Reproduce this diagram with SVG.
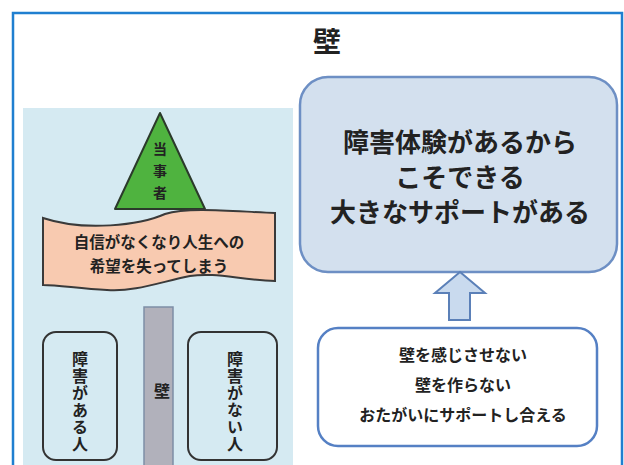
<svg xmlns="http://www.w3.org/2000/svg" width="624" height="465" viewBox="0 0 624 465">
<style>
text{font-family:"Noto Sans CJK JP","Noto Sans CJK SC",sans-serif;font-weight:bold;fill:#222;text-anchor:middle;dominant-baseline:central}
.v{writing-mode:vertical-rl}
.dark{fill:none;stroke:#333;stroke-width:2}
</style>
<rect x="0" y="0" width="624" height="465" fill="#ffffff"/>
<rect x="13" y="13" width="609" height="470" fill="#ffffff" stroke="#1f7fd0" stroke-width="2.5"/>
<g id="title"><text x="327" y="40" font-size="28">壁</text></g>
<g id="panel"><rect x="23" y="108" width="270" height="360" fill="#d5eaf2"/></g>
<g id="tojisha">
<path d="M160,113 L205,209 L115,209 Z" fill="#4fb33f" stroke="#2b3a2b" stroke-width="2" stroke-linejoin="round"/>
<text class="v" x="160" y="175" font-size="14" letter-spacing="8">当事者</text>
</g>
<g id="banner">
<path d="M43,218 C85,232 140,225 165,214 C190,206 240,212 275,213 L275,281 C240,280 215,272 190,276 C160,282 135,292 107,290 C80,289 60,285 43,285 Z" fill="#f8cab0" stroke="#3a3a3a" stroke-width="2"/>
<text x="159" y="241" font-size="15.5">自信がなくなり人生への</text>
<text x="159" y="265" font-size="15.5">希望を失ってしまう</text>
</g>
<g id="wall">
<rect x="144" y="307" width="29" height="165" fill="#b1b1bb" stroke="#7e8ea6" stroke-width="1.5"/>
<text x="162" y="390" font-size="16">壁</text>
</g>
<g id="person-with">
<rect x="43" y="332" width="74" height="128" rx="13" class="dark"/>
<text class="v" x="80" y="402" font-size="16" letter-spacing="1">障害がある人</text>
</g>
<g id="person-without">
<rect x="188" y="332" width="89" height="128" rx="13" class="dark"/>
<text class="v" x="235" y="402" font-size="16" letter-spacing="1">障害がない人</text>
</g>
<g id="support-box">
<rect x="300" y="77" width="317" height="195" rx="28" fill="#d3e0ee" stroke="#6d8fc4" stroke-width="2.5"/>
<text x="460" y="140" font-size="26">障害体験があるから</text>
<text x="460" y="175" font-size="26">こそできる</text>
<text x="460" y="210" font-size="26">大きなサポートがある</text>
</g>
<g id="connectors">
<path d="M460,272 L485,293 L470,293 L470,320 L449,320 L449,293 L435,293 Z" fill="#c9daee" stroke="#5b80b8" stroke-width="2" stroke-linejoin="miter"/>
</g>
<g id="no-wall-box">
<rect x="318" y="328" width="279" height="118" rx="20" fill="#ffffff" stroke="#5580c4" stroke-width="2.5"/>
<text x="463" y="354" font-size="16">壁を感じさせない</text>
<text x="463" y="384" font-size="16">壁を作らない</text>
<text x="463" y="414" font-size="16">おたがいにサポートし合える</text>
</g>
</svg>
